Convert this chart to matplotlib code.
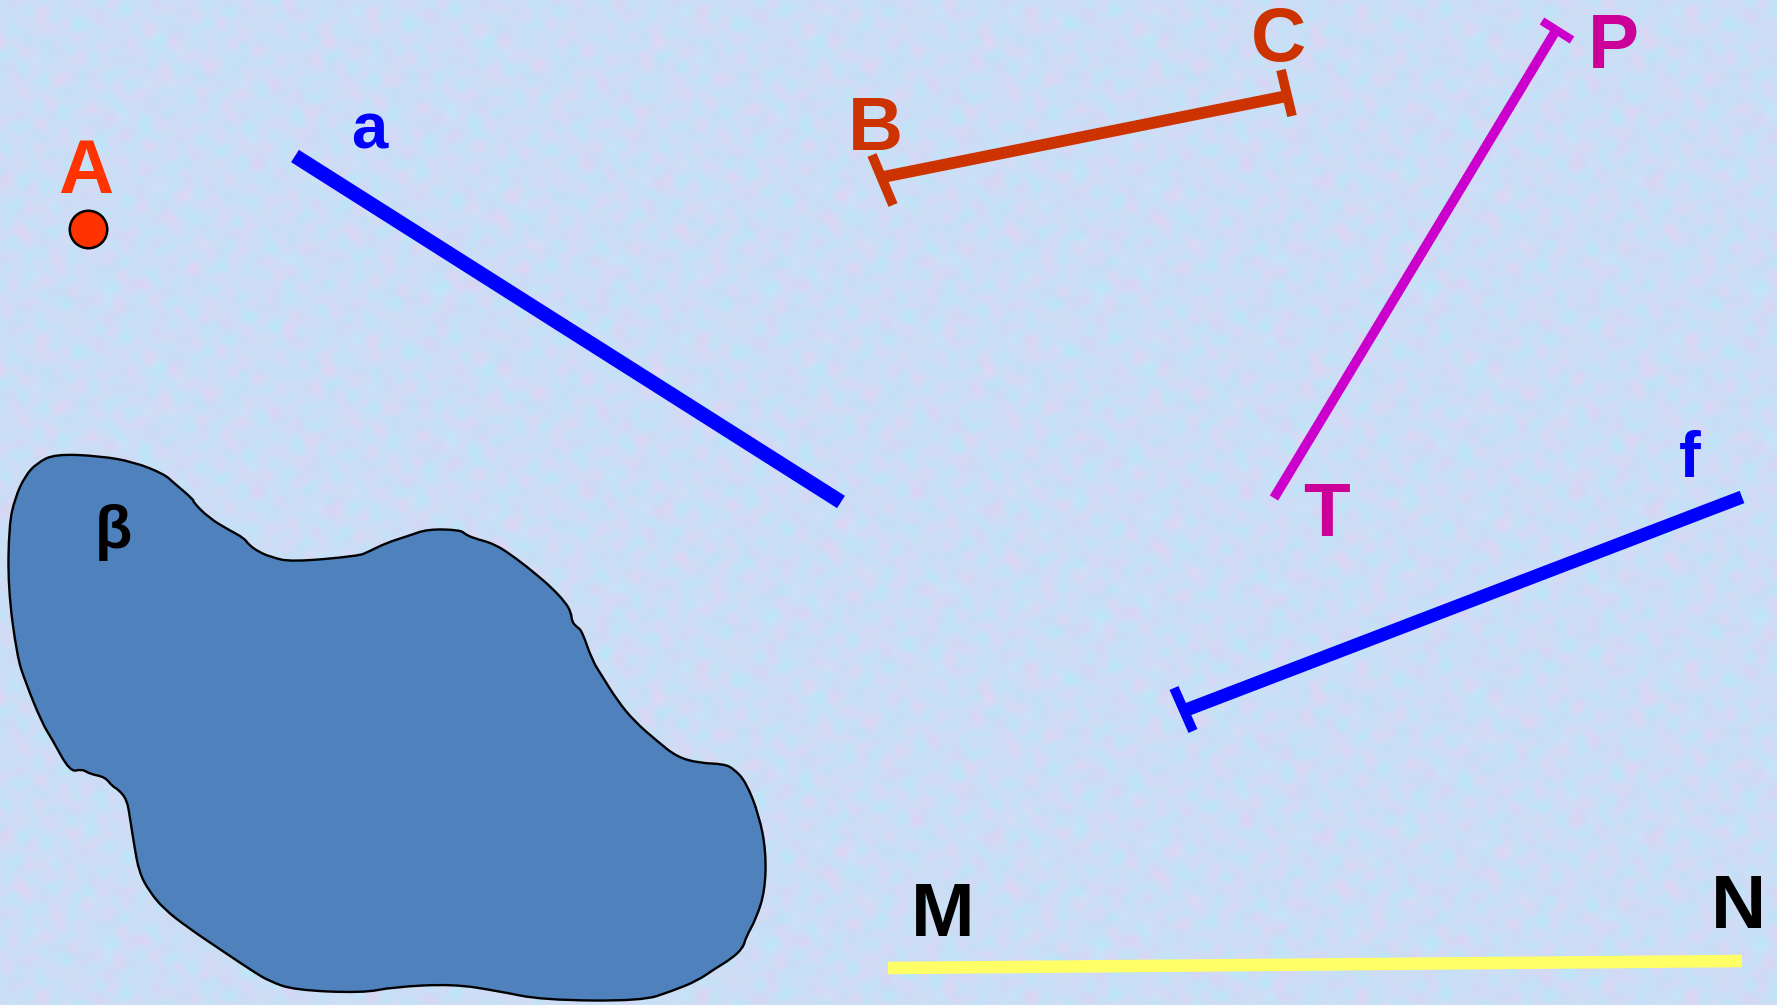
import numpy as np
import matplotlib
matplotlib.use("Agg")
import matplotlib.pyplot as plt
from matplotlib.patches import PathPatch
from matplotlib.path import Path

plt.rcParams["font.family"] = ["Liberation Sans", "DejaVu Sans"]

W, H = 1777, 1005

# ---------------------------------------------------------------------------
# geometry (pixel coordinates, y grows downward)
# ---------------------------------------------------------------------------
point_A = (88, 229)

line_a_x = [295, 841]
line_a_y = [156, 502]

seg_BC_x = [883, 1287]
seg_BC_y = [177, 96]
tick_B_x = [872, 893]
tick_B_y = [155, 205]
tick_C_x = [1281, 1292]
tick_C_y = [70, 116]

ray_TP_x = [1274, 1555]
ray_TP_y = [498, 32]
tick_P_x = [1542, 1572]
tick_P_y = [21, 40]

ray_f_x = [1186, 1742]
ray_f_y = [710, 497]
tick_f_x = [1174, 1193]
tick_f_y = [688, 731]

line_MN_x = [888, 1742]
line_MN_y = [968, 961]

blob_x = [55, 100, 134, 164, 174, 194, 193, 209, 229, 244, 249, 259, 271, 291,
          358, 368, 386, 408, 428, 460, 465, 473, 495, 517, 537, 552, 565, 571,
          572, 577, 582, 592, 602, 617, 634, 657, 677, 699, 724, 734, 746, 759,
          766, 765, 756, 746, 743, 731, 716, 697, 672, 642, 542, 498, 453, 393,
          363, 294, 269, 254, 224, 187, 164, 149, 139, 134, 130, 127, 119, 112,
          105, 90, 82, 70, 52, 42, 25, 17, 8, 9, 15, 25, 37]
blob_y = [454, 456, 462, 474, 483, 500, 502, 518, 530, 538, 545, 552, 557, 562,
          556, 552, 543, 536, 529, 530, 534, 538, 544, 559, 575, 588, 602, 612,
          622, 627, 631, 660, 676, 700, 721, 741, 757, 763, 764, 769, 782, 815,
          851, 891, 919, 937, 948, 959, 968, 981, 991, 1001, 1000, 991, 984, 987,
          993, 990, 981, 972, 952, 927, 909, 891, 872, 844, 818, 800, 790, 786,
          777, 774, 769, 772, 739, 723, 681, 656, 588, 525, 498, 476, 463]

labels = ["A", "a", "B", "C", "P", "T", "f", "M", "N", "\u03b2"]
label_x = [86, 369, 875, 1279, 1613, 1326, 1690, 943, 1738, 113]
label_y = [193, 148, 150, 61, 68, 536, 477, 936, 928, 548]
label_size = [55, 47, 55, 55, 55, 55, 47, 55, 55, 44]
label_color = ["#ff3300", "#0000ff", "#cc3300", "#cc3300", "#cc0099",
               "#cc0099", "#0000ff", "#000000", "#000000", "#000000"]

# ---------------------------------------------------------------------------
fig = plt.figure(figsize=(W / 100, H / 100), dpi=100)
ax = fig.add_axes([0, 0, 1, 1])
ax.set_xlim(0, W)
ax.set_ylim(H, 0)
ax.axis("off")

# mottled paper background, built from a seamless sinusoidal tile
tw, th = 330, 328
yy, xx = np.mgrid[0:th, 0:tw] / np.array([th, tw])[:, None, None]
waves = [(3, 5, 0.3), (5, -3, 1.7), (7, 4, 2.9), (-6, 7, 0.8), (9, 2, 4.1),
         (4, -9, 5.2), (11, 6, 1.1), (-8, 11, 3.3), (13, -5, 2.2), (10, 12, 0.5),
         (15, 3, 3.9), (-3, 14, 5.9), (17, -9, 0.2), (6, 17, 2.6)]
f1 = sum(np.sin(2 * np.pi * (kx * xx + ky * yy) + p) for kx, ky, p in waves)
f2 = sum(np.cos(2 * np.pi * (ky * xx - kx * yy) + 2 * p) for kx, ky, p in waves)
f1 = (f1 - f1.min()) / (f1.max() - f1.min())
f2 = (f2 - f2.min()) / (f2.max() - f2.min())
base = np.array([204, 222, 246]) / 255
cyan = np.array([188, 229, 250]) / 255
lav = np.array([222, 211, 246]) / 255
tile = (base + (f1[..., None] - 0.5) * 1.0 * (cyan - lav)
        + (f2[..., None] - 0.5) * 0.10 * (np.array([1, 1, 1]) - base))
tile = np.clip(tile, 0, 1)
bg = np.tile(tile, (H // th + 2, W // tw + 2, 1))[:H, :W]
ax.imshow(bg, extent=(0, W, H, 0), zorder=0, interpolation="bilinear")

# region beta: smooth outline using the traced points as quadratic controls
pts = np.column_stack([blob_x, blob_y]).astype(float)
mids = (pts + np.roll(pts, -1, axis=0)) / 2
verts = [mids[-1]]
codes = [Path.MOVETO]
for i in range(len(pts)):
    verts += [pts[i], mids[i]]
    codes += [Path.CURVE3, Path.CURVE3]
verts.append(mids[-1])
codes.append(Path.CLOSEPOLY)
ax.add_patch(PathPatch(Path(verts, codes), fc="#4f81bd", ec="black", lw=1.7,
                       joinstyle="round", zorder=2))

# point A
ax.plot(*point_A, "o", ms=27, mfc="#ff3300", mec="black", mew=1.8, zorder=4)

# line a
ax.plot(line_a_x, line_a_y, color="#0000ff", lw=10.5, solid_capstyle="butt", zorder=3)

# segment BC
ax.plot(seg_BC_x, seg_BC_y, color="#cc3300", lw=8.5, solid_capstyle="butt", zorder=3)
ax.plot(tick_B_x, tick_B_y, color="#cc3300", lw=7.0, solid_capstyle="butt", zorder=3)
ax.plot(tick_C_x, tick_C_y, color="#cc3300", lw=7.0, solid_capstyle="butt", zorder=3)

# ray PT
ax.plot(ray_TP_x, ray_TP_y, color="#cc00cc", lw=7.0, solid_capstyle="butt", zorder=3)
ax.plot(tick_P_x, tick_P_y, color="#cc00cc", lw=6.0, solid_capstyle="butt", zorder=3)

# ray f
ax.plot(ray_f_x, ray_f_y, color="#0000ff", lw=9.5, solid_capstyle="butt", zorder=3)
ax.plot(tick_f_x, tick_f_y, color="#0000ff", lw=7.0, solid_capstyle="butt", zorder=3)

# line MN
ax.plot(line_MN_x, line_MN_y, color="#ffff66", lw=9.0, solid_capstyle="butt", zorder=3)

for t, x, y, s, c in zip(labels, label_x, label_y, label_size, label_color):
    ax.text(x, y, t, fontsize=s, color=c, weight="bold",
            ha="center", va="baseline", zorder=5)

fig.savefig("out.png", dpi=100)
plt.close(fig)
